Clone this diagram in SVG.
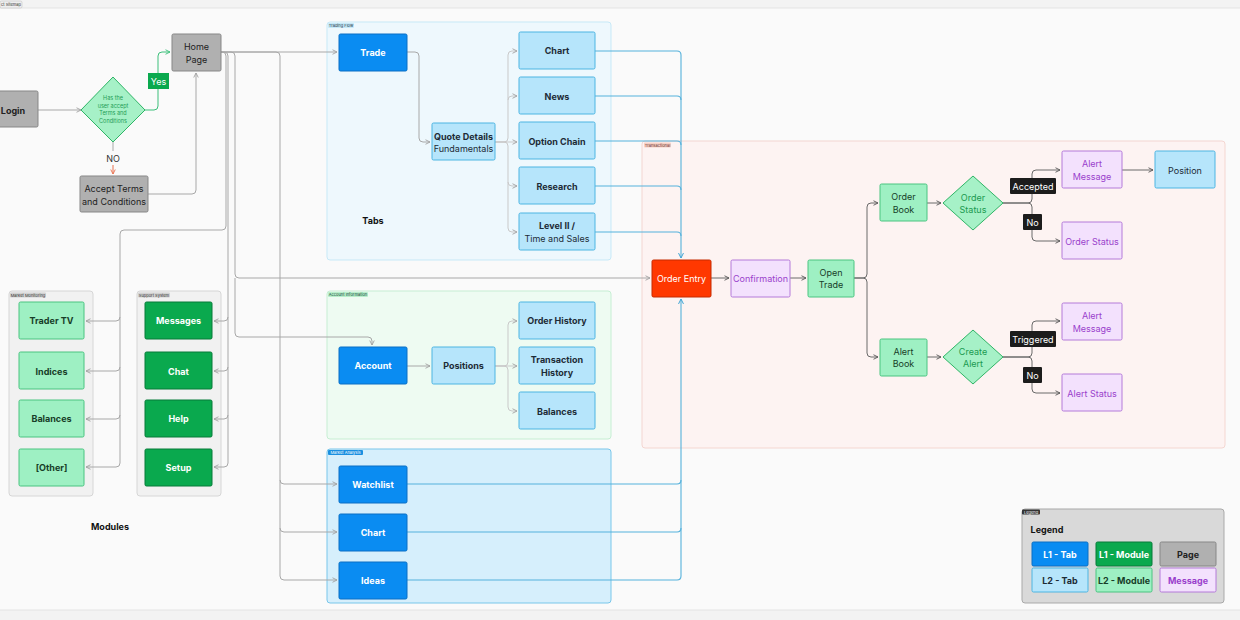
<svg xmlns="http://www.w3.org/2000/svg" width="1240" height="620" viewBox="0 0 1240 620">
<style>
text{font-family:Inter,"Liberation Sans",sans-serif;text-anchor:middle;dominant-baseline:central}
.b{font-weight:700;font-size:9px}
.r{font-size:9px}
.gray rect,.gray{fill:#b0b0b0;stroke:#878787;stroke-width:1}
.l1t{fill:#0a8cf2;stroke:#0a6fc4;stroke-width:1}
.l2t{fill:#b6e5fb;stroke:#4cb5e2;stroke-width:1}
.l1m{fill:#0aa94e;stroke:#077b38;stroke-width:1}
.l2m{fill:#9ef0c3;stroke:#4ac480;stroke-width:1}
.msg{fill:#f3e1fd;stroke:#b47ad9;stroke-width:1}
.wt{fill:#ffffff}
.dk{fill:#1d2b36}
.gt{fill:#173d28}
.pt{fill:#9a3fcc}
.tag{font-size:4px}
.c{fill:none;stroke:#a8a8a8;stroke-width:1}
.cl{fill:none;stroke:#c9c9c9;stroke-width:1}
.cb{fill:none;stroke:#55b1db;stroke-width:1.1}
.cd{fill:none;stroke:#6a6a6a;stroke-width:1}
.lab{fill:#1c1c1c}
</style>
<defs>
<marker id="ag" viewBox="0 0 8 8" refX="7" refY="4" markerWidth="6" markerHeight="6" orient="auto"><path d="M1,1 L7,4 L1,7" fill="none" stroke="#a0a0a0" stroke-width="1.2"/></marker>
<marker id="ad" viewBox="0 0 8 8" refX="7" refY="4" markerWidth="6" markerHeight="6" orient="auto"><path d="M1,1 L7,4 L1,7" fill="none" stroke="#555" stroke-width="1.2"/></marker>
<marker id="ab" viewBox="0 0 8 8" refX="7" refY="4" markerWidth="6" markerHeight="6" orient="auto"><path d="M1,1 L7,4 L1,7" fill="none" stroke="#3fa4d4" stroke-width="1.2"/></marker>
<marker id="agr" viewBox="0 0 8 8" refX="7" refY="4" markerWidth="6" markerHeight="6" orient="auto"><path d="M1,1 L7,4 L1,7" fill="none" stroke="#3cbf7a" stroke-width="1.2"/></marker>
<marker id="ar" viewBox="0 0 8 8" refX="7" refY="4" markerWidth="6" markerHeight="6" orient="auto"><path d="M1,1 L7,4 L1,7" fill="none" stroke="#e8704f" stroke-width="1.2"/></marker>
</defs>

<rect x="0" y="0" width="1240" height="620" fill="#f3f3f3"/>
<rect x="-2" y="8" width="1244" height="602" fill="#fafafa" stroke="#e4e4e4"/>
<g id="title-tag"><rect x="0" y="1" width="22" height="7" rx="1.5" fill="#eeeeee" stroke="#bbbbbb" stroke-width="0.5"/><text x="11" y="4.6" class="tag" fill="#333">ct Sitemap</text></g>

<!-- containers -->
<g id="market-monitoring"><rect x="9" y="291" width="84" height="205" rx="3" fill="#f1f1f1" stroke="#d6d6d6"/><rect x="10" y="292.5" width="36" height="5" rx="1" fill="#d2d2d2"/><text x="28" y="295" class="tag" fill="#333">Market Monitoring</text></g>
<g id="support-system"><rect x="137" y="291" width="84" height="205" rx="3" fill="#f1f1f1" stroke="#d6d6d6"/><rect x="138" y="292.5" width="32" height="5" rx="1" fill="#d2d2d2"/><text x="154" y="295" class="tag" fill="#333">Support System</text></g>
<g id="trading-flow"><rect x="327" y="22" width="284" height="238" rx="3" fill="#eef8fd" stroke="#c7e9f7"/><rect x="328" y="23" width="26" height="5" rx="1" fill="#c6e9f8"/><text x="341" y="25.5" class="tag" fill="#234">Trading Flow</text></g>
<g id="account-information"><rect x="327" y="291" width="284" height="148" rx="3" fill="#eefbf2" stroke="#c6eed3"/><rect x="328" y="292" width="40" height="5" rx="1" fill="#b8efcb"/><text x="348" y="294.5" class="tag" fill="#143">Account Information</text></g>
<g id="market-analysis"><rect x="327" y="449" width="284" height="154" rx="3" fill="#d6effc" stroke="#79c6ea"/><rect x="328" y="450" width="35" height="5" rx="1" fill="#1a8fe0"/><text x="345.5" y="452.5" class="tag" fill="#fff">Market Analysis</text></g>
<g id="transactional"><rect x="642" y="141" width="583" height="307" rx="3" fill="#fdf3f2" stroke="#f4d6d1"/><rect x="644" y="142.5" width="27" height="5" rx="1" fill="#f8cfc4"/><text x="657.5" y="145" class="tag" fill="#633">Transactional</text></g>
<g id="legend-box"><rect x="1022" y="509" width="202" height="94" rx="3" fill="#d9d9d9" stroke="#a9a9a9"/><rect x="1022" y="509.5" width="18" height="5" rx="1" fill="#333"/><text x="1031" y="512" class="tag" fill="#fff">Legend</text></g>

<!-- connectors -->
<g id="connectors">
<path class="c" d="M38,110 H81" marker-end="url(#ag)"/>
<path d="M145,110 H154 Q158,110 158,106 V56 Q158,52 162,52 H170" fill="none" stroke="#3cbf7a" stroke-width="1" marker-end="url(#agr)"/>
<path class="c" d="M113,142 V151"/>
<path d="M113,165 V174" fill="none" stroke="#e8704f" stroke-width="1" marker-end="url(#ar)"/>
<path class="c" d="M148,194 H192 Q196,194 196,190 V73" marker-end="url(#ag)"/>

<path class="c" d="M221,52 H337" marker-end="url(#ag)"/>
<path class="c" d="M221,52 H222 Q226,52 226,56 V226 Q226,230 222,230 H124 Q120,230 120,234 V463 Q120,467 116,467 H86" marker-end="url(#ag)"/>
<path class="c" d="M120,317 Q120,321 116,321 H86" marker-end="url(#ag)"/>
<path class="c" d="M120,367 Q120,371 116,371 H86" marker-end="url(#ag)"/>
<path class="c" d="M120,415 Q120,419 116,419 H86" marker-end="url(#ag)"/>
<path class="c" d="M221,52 H224 Q228,52 228,56 V463 Q228,467 224,467 H214" marker-end="url(#ag)"/>
<path class="c" d="M228,317 Q228,321 224,321 H214" marker-end="url(#ag)"/>
<path class="c" d="M228,367 Q228,371 224,371 H214" marker-end="url(#ag)"/>
<path class="c" d="M228,415 Q228,419 224,419 H214" marker-end="url(#ag)"/>
<path class="c" d="M221,52 H231 Q235,52 235,56 V274 Q235,278 239,278 H650" marker-end="url(#ag)"/>
<path class="c" d="M235,278 V333 Q235,337 239,337 H368 Q372,337 372,341 V345" marker-end="url(#ag)"/>
<path class="c" d="M221,52 H276 Q280,52 280,56 V576 Q280,580 284,580 H337" marker-end="url(#ag)"/>
<path class="c" d="M280,480 Q280,484 284,484 H337" marker-end="url(#ag)"/>
<path class="c" d="M280,528 Q280,532 284,532 H337" marker-end="url(#ag)"/>

<path class="c" d="M407,52 H415 Q419,52 419,56 V138 Q419,142 423,142 H430" marker-end="url(#ag)"/>
<path class="cl" d="M495,142 H504 Q508,142 508,138 V55 Q508,51 512,51 H517" marker-end="url(#ag)"/>
<path class="cl" d="M508,100 Q508,96 512,96 H517" marker-end="url(#ag)"/>
<path class="cl" d="M495,142 H517" marker-end="url(#ag)"/>
<path class="cl" d="M495,142 H504 Q508,142 508,146 V228 Q508,232 512,232 H517" marker-end="url(#ag)"/>
<path class="cl" d="M508,182 Q508,186 512,186 H517" marker-end="url(#ag)"/>

<path class="c" d="M407,366 H430" marker-end="url(#ag)"/>
<path class="cl" d="M495,366 H504 Q508,366 508,362 V325 Q508,321 512,321 H517" marker-end="url(#ag)"/>
<path class="cl" d="M495,366 H517" marker-end="url(#ag)"/>
<path class="cl" d="M495,366 H504 Q508,366 508,370 V407 Q508,411 512,411 H517" marker-end="url(#ag)"/>

<path class="cb" d="M595,51 H677 Q681,51 681,55 V258" marker-end="url(#ab)"/>
<path class="cb" d="M595,96 H677 Q681,96 681,100"/>
<path class="cb" d="M595,141 H677 Q681,141 681,145"/>
<path class="cb" d="M595,186 H677 Q681,186 681,190"/>
<path class="cb" d="M595,232 H677 Q681,232 681,236"/>
<path class="cb" d="M407,580 H677 Q681,580 681,576 V299" marker-end="url(#ab)"/>
<path class="cb" d="M407,532 H677 Q681,532 681,528"/>
<path class="cb" d="M407,484 H677 Q681,484 681,480"/>

<path class="cd" d="M711,278 H729" marker-end="url(#ad)"/>
<path class="cd" d="M790,278 H806" marker-end="url(#ad)"/>
<path class="cd" d="M854,278 H863 Q867,278 867,274 V207 Q867,203 871,203 H878" marker-end="url(#ad)"/>
<path class="cd" d="M854,278 H863 Q867,278 867,282 V353 Q867,357 871,357 H878" marker-end="url(#ad)"/>
<path class="cd" d="M927,203 H941" marker-end="url(#ad)"/>
<path class="cd" d="M927,357 H941" marker-end="url(#ad)"/>
<path class="cd" d="M1003,203 H1028 Q1032,203 1032,199 V174 Q1032,170 1036,170 H1060" marker-end="url(#ad)"/>
<path class="cd" d="M1003,203 H1028 Q1032,203 1032,207 V237 Q1032,241 1036,241 H1060" marker-end="url(#ad)"/>
<path class="cd" d="M1122,170 H1153" marker-end="url(#ad)"/>
<path class="cd" d="M1003,357 H1028 Q1032,357 1032,353 V325 Q1032,321 1036,321 H1060" marker-end="url(#ad)"/>
<path class="cd" d="M1003,357 H1028 Q1032,357 1032,361 V389 Q1032,393 1036,393 H1060" marker-end="url(#ad)"/>
</g>

<!-- edge labels -->
<g id="label-yes"><rect x="148" y="73" width="21" height="16" fill="#0aa94e"/><text x="158.5" y="81" class="r wt">Yes</text></g>
<g id="label-no-terms"><text x="113" y="158" class="r" fill="#333">NO</text></g>
<g id="label-accepted"><rect x="1010" y="178" width="46" height="16" rx="1" class="lab"/><text x="1033" y="186.5" class="r wt">Accepted</text></g>
<g id="label-no1"><rect x="1023" y="214" width="19" height="16" rx="1" class="lab"/><text x="1032.5" y="222" class="r wt">No</text></g>
<g id="label-triggered"><rect x="1010" y="331" width="46" height="16" rx="1" class="lab"/><text x="1033" y="339.5" class="r wt">Triggered</text></g>
<g id="label-no2"><rect x="1023" y="367" width="19" height="16" rx="1" class="lab"/><text x="1032.5" y="375" class="r wt">No</text></g>

<!-- left flow -->
<g id="login"><rect x="-3" y="91" width="41" height="36" rx="1.5" class="gray"/><text x="13" y="110" class="b" fill="#222">Login</text></g>
<g id="accept-decision"><polygon points="113,77 145,110 113,142 81,110" fill="#a6f1c7" stroke="#2fb566" stroke-width="1"/>
<text x="113" y="98" font-size="5.5" fill="#1f9d55">Has the</text><text x="113" y="105.5" font-size="5.5" fill="#1f9d55">user accept</text><text x="113" y="113" font-size="5.5" fill="#1f9d55">Terms and</text><text x="113" y="120.5" font-size="5.5" fill="#1f9d55">Conditions</text></g>
<g id="home-page"><rect x="172" y="34" width="49" height="37" rx="1.5" class="gray"/><text x="196.5" y="46.5" class="r" fill="#222">Home</text><text x="196.5" y="59" class="r" fill="#222">Page</text></g>
<g id="accept-terms"><rect x="80" y="176" width="68" height="36" rx="1.5" class="gray"/><text x="114" y="188.5" class="r" fill="#222">Accept Terms</text><text x="114" y="201" class="r" fill="#222">and Conditions</text></g>

<!-- modules -->
<g id="trader-tv"><rect x="19" y="302" width="65" height="37" rx="1.5" class="l2m"/><text x="51.5" y="320.5" class="b gt">Trader TV</text></g>
<g id="indices"><rect x="19" y="352" width="65" height="37" rx="1.5" class="l2m"/><text x="51.5" y="371" class="b gt">Indices</text></g>
<g id="balances-mm"><rect x="19" y="400" width="65" height="37" rx="1.5" class="l2m"/><text x="51.5" y="418.5" class="b gt">Balances</text></g>
<g id="other"><rect x="19" y="449" width="65" height="37" rx="1.5" class="l2m"/><text x="51.5" y="467.5" class="b gt">[Other]</text></g>
<g id="messages"><rect x="145" y="302" width="67" height="37" rx="1.5" class="l1m"/><text x="178.5" y="320.5" class="b wt">Messages</text></g>
<g id="chat"><rect x="145" y="352" width="67" height="37" rx="1.5" class="l1m"/><text x="178.5" y="371" class="b wt">Chat</text></g>
<g id="help"><rect x="145" y="400" width="67" height="37" rx="1.5" class="l1m"/><text x="178.5" y="418.5" class="b wt">Help</text></g>
<g id="setup"><rect x="145" y="449" width="67" height="37" rx="1.5" class="l1m"/><text x="178.5" y="467.5" class="b wt">Setup</text></g>
<g id="modules-title"><text x="110" y="526" class="b" fill="#111">Modules</text></g>

<!-- trading flow -->
<g id="trade"><rect x="339" y="34" width="68" height="37" rx="1.5" class="l1t"/><text x="373" y="52.5" class="b wt">Trade</text></g>
<g id="quote-details"><rect x="432" y="123" width="63" height="37" rx="1.5" class="l2t"/><text x="463.5" y="136" class="b dk">Quote Details</text><text x="463.5" y="148.5" class="r dk">Fundamentals</text></g>
<g id="chart-tf"><rect x="519" y="32" width="76" height="37" rx="1.5" class="l2t"/><text x="557" y="50.5" class="b dk">Chart</text></g>
<g id="news"><rect x="519" y="77" width="76" height="37" rx="1.5" class="l2t"/><text x="557" y="96" class="b dk">News</text></g>
<g id="option-chain"><rect x="519" y="122" width="76" height="37" rx="1.5" class="l2t"/><text x="557" y="141" class="b dk">Option Chain</text></g>
<g id="research"><rect x="519" y="167" width="76" height="37" rx="1.5" class="l2t"/><text x="557" y="186" class="b dk">Research</text></g>
<g id="level-ii"><rect x="519" y="213" width="76" height="37" rx="1.5" class="l2t"/><text x="557" y="225.5" class="b dk">Level II /</text><text x="557" y="238" class="r dk">Time and Sales</text></g>
<g id="tabs-title"><text x="373" y="220" class="b" fill="#111">Tabs</text></g>

<!-- account information -->
<g id="account"><rect x="339" y="347" width="68" height="37" rx="1.5" class="l1t"/><text x="373" y="365.5" class="b wt">Account</text></g>
<g id="positions"><rect x="432" y="347" width="63" height="37" rx="1.5" class="l2t"/><text x="463.5" y="365.5" class="b dk">Positions</text></g>
<g id="order-history"><rect x="519" y="302" width="76" height="37" rx="1.5" class="l2t"/><text x="557" y="320.5" class="b dk">Order History</text></g>
<g id="transaction-history"><rect x="519" y="347" width="76" height="37" rx="1.5" class="l2t"/><text x="557" y="359" class="b dk">Transaction</text><text x="557" y="372" class="b dk">History</text></g>
<g id="balances-ai"><rect x="519" y="392" width="76" height="37" rx="1.5" class="l2t"/><text x="557" y="411" class="b dk">Balances</text></g>

<!-- market analysis -->
<g id="watchlist"><rect x="339" y="466" width="68" height="37" rx="1.5" class="l1t"/><text x="373" y="484.5" class="b wt">Watchlist</text></g>
<g id="chart-ma"><rect x="339" y="514" width="68" height="37" rx="1.5" class="l1t"/><text x="373" y="532.5" class="b wt">Chart</text></g>
<g id="ideas"><rect x="339" y="562" width="68" height="37" rx="1.5" class="l1t"/><text x="373" y="580.5" class="b wt">Ideas</text></g>

<!-- transactional -->
<g id="order-entry"><rect x="652" y="260" width="59" height="37" rx="1.5" fill="#ff3800" stroke="#c52b00"/><text x="681.5" y="278.5" class="r wt">Order Entry</text></g>
<g id="confirmation"><rect x="731" y="260" width="59" height="37" rx="1.5" class="msg"/><text x="760.5" y="278.5" class="r pt">Confirmation</text></g>
<g id="open-trade"><rect x="808" y="260" width="46" height="37" rx="1.5" class="l2m"/><text x="831" y="272" class="r gt">Open</text><text x="831" y="284.5" class="r gt">Trade</text></g>
<g id="order-book"><rect x="880" y="184" width="47" height="37" rx="1.5" class="l2m"/><text x="903.5" y="196.5" class="r gt">Order</text><text x="903.5" y="209" class="r gt">Book</text></g>
<g id="alert-book"><rect x="880" y="339" width="47" height="37" rx="1.5" class="l2m"/><text x="903.5" y="351" class="r gt">Alert</text><text x="903.5" y="363.5" class="r gt">Book</text></g>
<g id="order-status-decision"><polygon points="973,176 1003,203 973,230 943,203" fill="#a6f1c7" stroke="#2fb566"/><text x="973" y="197" class="r" fill="#1a9a50">Order</text><text x="973" y="209.5" class="r" fill="#1a9a50">Status</text></g>
<g id="create-alert-decision"><polygon points="973,330 1003,357 973,384 943,357" fill="#a6f1c7" stroke="#2fb566"/><text x="973" y="351" class="r" fill="#1a9a50">Create</text><text x="973" y="363.5" class="r" fill="#1a9a50">Alert</text></g>
<g id="alert-message-1"><rect x="1062" y="151" width="60" height="37" rx="1.5" class="msg"/><text x="1092" y="163.5" class="r pt">Alert</text><text x="1092" y="176" class="r pt">Message</text></g>
<g id="position"><rect x="1155" y="151" width="60" height="37" rx="1.5" class="l2t"/><text x="1185" y="170" class="r dk">Position</text></g>
<g id="order-status"><rect x="1062" y="222" width="60" height="37" rx="1.5" class="msg"/><text x="1092" y="241" class="r pt">Order Status</text></g>
<g id="alert-message-2"><rect x="1062" y="303" width="60" height="37" rx="1.5" class="msg"/><text x="1092" y="315.5" class="r pt">Alert</text><text x="1092" y="328" class="r pt">Message</text></g>
<g id="alert-status"><rect x="1062" y="374" width="60" height="37" rx="1.5" class="msg"/><text x="1092" y="393" class="r pt">Alert Status</text></g>

<!-- legend -->
<g id="legend">
<text x="1047" y="529" class="b" fill="#111">Legend</text>
<rect x="1032" y="542" width="56" height="24" rx="1.5" class="l1t"/><text x="1060" y="554.5" class="b wt">L1 - Tab</text>
<rect x="1096" y="542" width="56" height="24" rx="1.5" class="l1m"/><text x="1124" y="554.5" class="b wt">L1 - Module</text>
<rect x="1160" y="542" width="56" height="24" rx="1.5" class="gray"/><text x="1188" y="554.5" class="b" fill="#222">Page</text>
<rect x="1032" y="568" width="56" height="24" rx="1.5" class="l2t"/><text x="1060" y="580.5" class="b dk">L2 - Tab</text>
<rect x="1096" y="568" width="56" height="24" rx="1.5" class="l2m"/><text x="1124" y="580.5" class="b gt">L2 - Module</text>
<rect x="1160" y="568" width="56" height="24" rx="1.5" class="msg"/><text x="1188" y="580.5" class="b pt">Message</text>
</g>
</svg>
